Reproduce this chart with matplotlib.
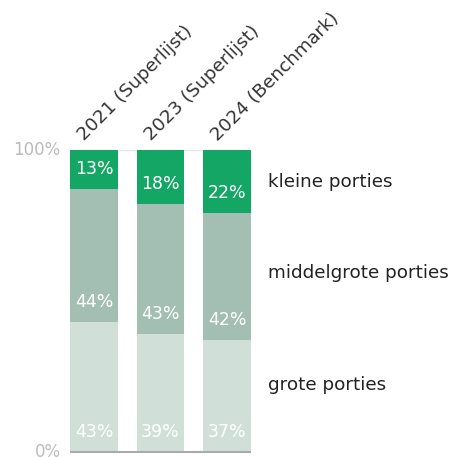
import matplotlib
matplotlib.use('Agg')
import matplotlib.pyplot as plt
import numpy as np

# portiegrootte per lijst (in %)
categories = ['2021 (Superlijst)', '2023 (Superlijst)', '2024 (Benchmark)']
series_names = ['grote porties', 'middelgrote porties', 'kleine porties']
grote = [43, 39, 37]
middelgroot = [44, 43, 42]
klein = [13, 18, 22]

colors = ['#d0e0d9', '#a3bfb3', '#14a664']
label_y = [22.2, 59.3, 89.4]  # plek van de reeksnamen rechts

plt.rcParams['font.family'] = ['DejaVu Sans']

W, H = 454, 457
fig = plt.figure(figsize=(W / 100, H / 100), dpi=100)
ax = fig.add_axes([60.75 / W, 5 / H, 199.5 / W, 302 / H])

x = np.arange(len(categories))
width = 0.72
bottom = np.zeros(len(categories))
for vals, col in zip([grote, middelgroot, klein], colors):
    vals = np.array(vals, dtype=float)
    ax.bar(x, vals, width, bottom=bottom, color=col, linewidth=0, zorder=2)
    for xi, b, v in zip(x, bottom, vals):
        ax.text(xi, b + 6.6, '{:.0f}%'.format(v), ha='center', va='center',
                color='white', fontsize=12.5, zorder=3)
    bottom += vals

ax.set_xlim(-0.5, len(categories) - 0.5)
ax.set_ylim(0, 100)
ax.hlines(100, -width / 2, x[-1] + width / 2, color='#e6e6e6', lw=1, zorder=1)
ax.hlines(0, -width / 2, x[-1] + width / 2, color='#aaaaaa', lw=1.5, zorder=4,
          clip_on=False)

for xi, cat in zip(x, categories):
    ax.annotate(cat, (xi, 100), xytext=(-5, 4), textcoords='offset points',
                rotation=45, rotation_mode='anchor', ha='left', va='bottom',
                fontsize=13.3, color='#333333', annotation_clip=False)

for name, y in zip(series_names, label_y):
    ax.annotate(name, (x[-1] + width / 2, y), xytext=(12, 0),
                textcoords='offset points', ha='left', va='center',
                fontsize=13.2, color='#222222', annotation_clip=False)

for y, t in [(100, '100%'), (0, '0%')]:
    ax.annotate(t, (-0.5, y), xytext=(0, 0), textcoords='offset points',
                ha='right', va='center', fontsize=12, color='#bbbbbb',
                annotation_clip=False)

ax.axis('off')
fig.savefig('out.png', dpi=100)
